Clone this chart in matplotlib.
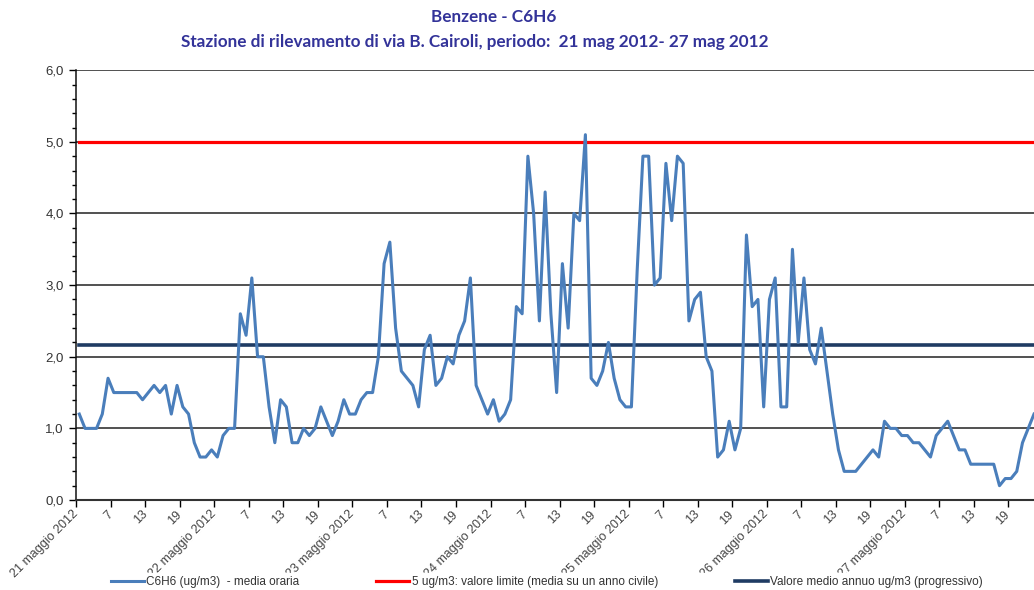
import numpy as np
import matplotlib
matplotlib.use("Agg")
import matplotlib.pyplot as plt
from matplotlib.ticker import FuncFormatter, MultipleLocator

plt.rcParams["font.family"] = ["Liberation Sans", "DejaVu Sans"]

# hourly benzene values, 21-27 May 2012 (ug/m3)
day1 = [1.2, 1.0, 1.0, 1.0, 1.2, 1.7, 1.5, 1.5, 1.5, 1.5, 1.5, 1.4,
        1.5, 1.6, 1.5, 1.6, 1.2, 1.6, 1.3, 1.2, 0.8, 0.6, 0.6, 0.7]
day2 = [0.6, 0.9, 1.0, 1.0, 2.6, 2.3, 3.1, 2.0, 2.0, 1.3, 0.8, 1.4,
        1.3, 0.8, 0.8, 1.0, 0.9, 1.0, 1.3, 1.1, 0.9, 1.1, 1.4, 1.2]
day3 = [1.2, 1.4, 1.5, 1.5, 2.0, 3.3, 3.6, 2.4, 1.8, 1.7, 1.6, 1.3,
        2.1, 2.3, 1.6, 1.7, 2.0, 1.9, 2.3, 2.5, 3.1, 1.6, 1.4, 1.2]
day4 = [1.4, 1.1, 1.2, 1.4, 2.7, 2.6, 4.8, 4.0, 2.5, 4.3, 2.6, 1.5,
        3.3, 2.4, 4.0, 3.9, 5.1, 1.7, 1.6, 1.8, 2.2, 1.7, 1.4, 1.3]
day5 = [1.3, 3.2, 4.8, 4.8, 3.0, 3.1, 4.7, 3.9, 4.8, 4.7, 2.5, 2.8,
        2.9, 2.0, 1.8, 0.6, 0.7, 1.1, 0.7, 1.0, 3.7, 2.7, 2.8, 1.3]
day6 = [2.8, 3.1, 1.3, 1.3, 3.5, 2.2, 3.1, 2.1, 1.9, 2.4, 1.8, 1.2,
        0.7, 0.4, 0.4, 0.4, 0.5, 0.6, 0.7, 0.6, 1.1, 1.0, 1.0, 0.9]
day7 = [0.9, 0.8, 0.8, 0.7, 0.6, 0.9, 1.0, 1.1, 0.9, 0.7, 0.7, 0.5,
        0.5, 0.5, 0.5, 0.5, 0.2, 0.3, 0.3, 0.4, 0.8, 1.0, 1.2]

c6h6 = day1 + day2 + day3 + day4 + day5 + day6 + day7
limite = 5.0        # valore limite annuo
medio_annuo = 2.16  # valore medio annuo progressivo

days = ["21 maggio 2012", "22 maggio 2012", "23 maggio 2012", "24 maggio 2012",
        "25 maggio 2012", "26 maggio 2012", "27 maggio 2012"]
hours = ["7", "13", "19"]

labels = ["C6H6 (ug/m3)  - media oraria",
          "5 ug/m3: valore limite (media su un anno civile)",
          "Valore medio annuo ug/m3 (progressivo)"]

x = np.arange(len(c6h6))

fig = plt.figure(figsize=(10.34, 5.9), dpi=100)
ax = fig.add_axes([0.0739, 0.1525, 1 - 0.0739, 0.881 - 0.1525])

ax.plot(x, c6h6, color="#4A7EBB", lw=2.2, label=labels[0], zorder=4)
ax.plot(x, np.full(len(x), limite), color="#FF0000", lw=2.3, label=labels[1], zorder=3)
ax.plot(x, np.full(len(x), medio_annuo), color="#1F3B63", lw=2.6, label=labels[2], zorder=3)

ax.set_xlim(-0.5, 166.0)
ax.set_ylim(0, 6)

# y axis
ax.yaxis.set_major_locator(MultipleLocator(1))
ax.yaxis.set_minor_locator(MultipleLocator(0.2))
ax.yaxis.set_major_formatter(FuncFormatter(lambda v, p: f"{v:.1f}".replace(".", ",")))
ax.tick_params(axis="y", which="major", length=5, width=1, labelsize=9.5,
               labelcolor="#333333", pad=4)
ax.tick_params(axis="y", which="minor", length=3, width=1)
ax.grid(axis="y", which="major", color="#222222", lw=1.1, zorder=1)

# x axis: a tick every 6 hours
tick_pos = []
tick_lab = []
for d, name in enumerate(days):
    tick_pos.append(d * 24 - 0.5)
    tick_lab.append(name)
    for k, h in enumerate(hours):
        tick_pos.append(d * 24 + 6 * (k + 1) - 0.5)
        tick_lab.append(h)
ax.set_xticks(tick_pos)
ax.set_xticklabels(tick_lab, rotation=45, ha="right", va="center",
                   rotation_mode="anchor", fontsize=9, color="#444444")
ax.tick_params(axis="x", length=5, width=1, pad=4)

for s in ["top", "right"]:
    ax.spines[s].set_visible(False)
ax.spines["left"].set_color("#111111")
ax.spines["bottom"].set_color("#333333")
ax.spines["left"].set_linewidth(1.1)
ax.spines["bottom"].set_linewidth(1.5)

# titles
fig.text(494 / 1034, 1 - 17 / 590, "Benzene - C6H6", ha="center", va="center",
         fontsize=12.3, fontweight="bold", family="Lato", color="#333399")
fig.text(475 / 1034, 1 - 42 / 590,
         "Stazione di rilevamento di via B. Cairoli, periodo:  21 mag 2012- 27 mag 2012",
         ha="center", va="center", fontsize=12.3, fontweight="bold", family="Lato",
         color="#333399")

# legend with white box that hides the bottom of the date labels
leg = fig.legend(loc="center", bbox_to_anchor=(0.529, 1 - 582 / 590), ncol=3,
                 fontsize=8.5, frameon=True, facecolor="white", edgecolor="none",
                 framealpha=1, handlelength=2.8, handletextpad=0.2,
                 columnspacing=6.5, borderpad=0.25, fancybox=False)
for t in leg.get_texts():
    t.set_color("#333333")

fig.savefig("out.png", dpi=100)
